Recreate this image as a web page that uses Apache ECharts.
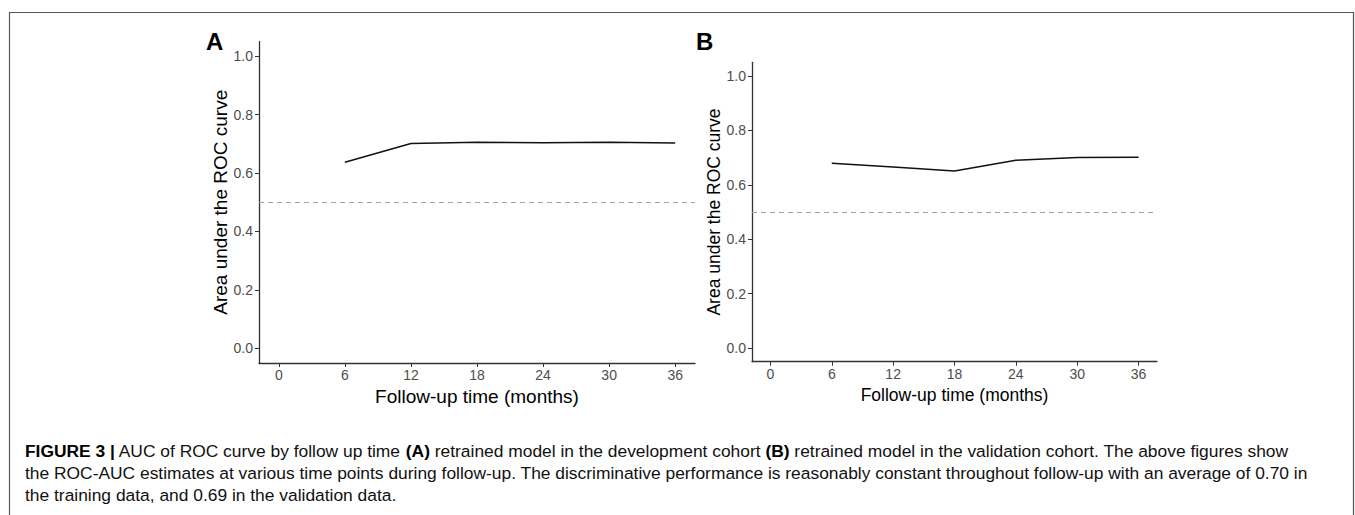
<!DOCTYPE html>
<html>
<head>
<meta charset="utf-8">
<script src="https://cdn.jsdelivr.net/npm/echarts@6/dist/echarts.min.js"></script>
<style>
html,body{margin:0;padding:0;background:#fff;}
#chart{width:1355px;height:515px;}
</style>
</head>
<body>
<div id="chart"></div>
<script>
// ---- data ----
var months = [6, 12, 18, 24, 30, 36];
var aucDevelopment = [0.637, 0.701, 0.705, 0.704, 0.705, 0.703];
var aucValidation = [0.679, 0.665, 0.651, 0.690, 0.700, 0.701];
var xTicks = [0, 6, 12, 18, 24, 30, 36];
var yTicks = [0, 0.2, 0.4, 0.6, 0.8, 1.0];
var referenceLine = 0.5;
var panelLabels = ['A', 'B'];
var xTitle = 'Follow-up time (months)';
var yTitle = 'Area under the ROC curve';
var captionLines = [
  '{b|FIGURE 3 |} AUC of ROC curve by follow up time {b|(A)} retrained model in the development cohort {b|(B)} retrained model in the validation cohort. The above figures show',
  'the ROC-AUC estimates at various time points during follow-up. The discriminative performance is reasonably constant throughout follow-up with an average of 0.70 in',
  'the training data, and 0.69 in the validation data.'
];

var FONT = 'Liberation Sans, Arial, sans-serif';

function pairs(xs, ys) { return xs.map(function (x, i) { return [x, ys[i]]; }); }

function xAxisCfg(idx, nameSize, gap, tickSize) {
  return {
    type: 'value', gridIndex: idx, min: -1.8, max: 37.8,
    name: xTitle, nameLocation: 'middle', nameGap: gap,
    nameTextStyle: { fontFamily: FONT, fontSize: nameSize, color: '#000' },
    axisLine: { show: true, onZero: false, lineStyle: { color: '#333', width: 1.3 } },
    axisTick: { show: true, customValues: xTicks, length: 4, lineStyle: { color: '#333', width: 1 } },
    axisLabel: { customValues: xTicks, margin: 5, fontFamily: FONT, fontSize: tickSize, color: '#4d4d4d' },
    splitLine: { show: false }
  };
}
function yAxisCfg(idx, nameSize, gap, tickSize) {
  return {
    type: 'value', gridIndex: idx, min: -0.05, max: 1.05,
    name: yTitle, nameLocation: 'middle', nameGap: gap,
    nameTextStyle: { fontFamily: FONT, fontSize: nameSize, color: '#000' },
    axisLine: { show: true, onZero: false, lineStyle: { color: '#333', width: 1.3 } },
    axisTick: { show: true, customValues: yTicks, length: 4, lineStyle: { color: '#333', width: 1 } },
    axisLabel: { customValues: yTicks, margin: 6, fontFamily: FONT, fontSize: tickSize, color: '#4d4d4d',
      formatter: function (v) { return v.toFixed(1); } },
    splitLine: { show: false }
  };
}
function lineSeries(idx, ys) {
  return {
    type: 'line', xAxisIndex: idx, yAxisIndex: idx, data: pairs(months, ys),
    symbol: 'none', lineStyle: { color: '#111', width: 1.5 }, z: 3,
    markLine: {
      silent: true, symbol: 'none', label: { show: false },
      lineStyle: { color: '#a0a0a0', type: [5, 4], width: 1 },
      data: [{ yAxis: referenceLine }]
    }
  };
}

var chart = echarts.init(document.getElementById('chart'), null, { renderer: 'svg' });
var graphics = [
  { type: 'rect', shape: { x: 9.5, y: 12.5, width: 1344, height: 520 },
    style: { fill: 'none', stroke: '#555', lineWidth: 1.2 }, silent: true },
  { type: 'text', left: 206, top: 29, style: { text: panelLabels[0], font: 'bold 24px ' + FONT, fill: '#000' } },
  { type: 'text', left: 696, top: 29, style: { text: panelLabels[1], font: 'bold 24px ' + FONT, fill: '#000' } }
];
captionLines.forEach(function (t, i) {
  graphics.push({
    type: 'text', left: 25, top: 442 + i * 22,
    style: {
      text: t, fontFamily: FONT, fontSize: 17.4, fill: '#111',
      rich: { b: { fontFamily: FONT, fontSize: 17.4, fontWeight: 'bold', fill: '#000' } }
    }
  });
});

chart.setOption({
  animation: false,
  backgroundColor: '#fff',
  grid: [
    { left: 259, top: 41.5, width: 436, height: 321.5 },
    { left: 752, top: 62.3, width: 405, height: 299.4 }
  ],
  xAxis: [xAxisCfg(0, 19, 18, 14), xAxisCfg(1, 17.5, 16, 14)],
  yAxis: [yAxisCfg(0, 19, 28, 14), yAxisCfg(1, 17.5, 27, 14)],
  series: [lineSeries(0, aucDevelopment), lineSeries(1, aucValidation)],
  graphic: graphics
});
</script>
</body>
</html>
